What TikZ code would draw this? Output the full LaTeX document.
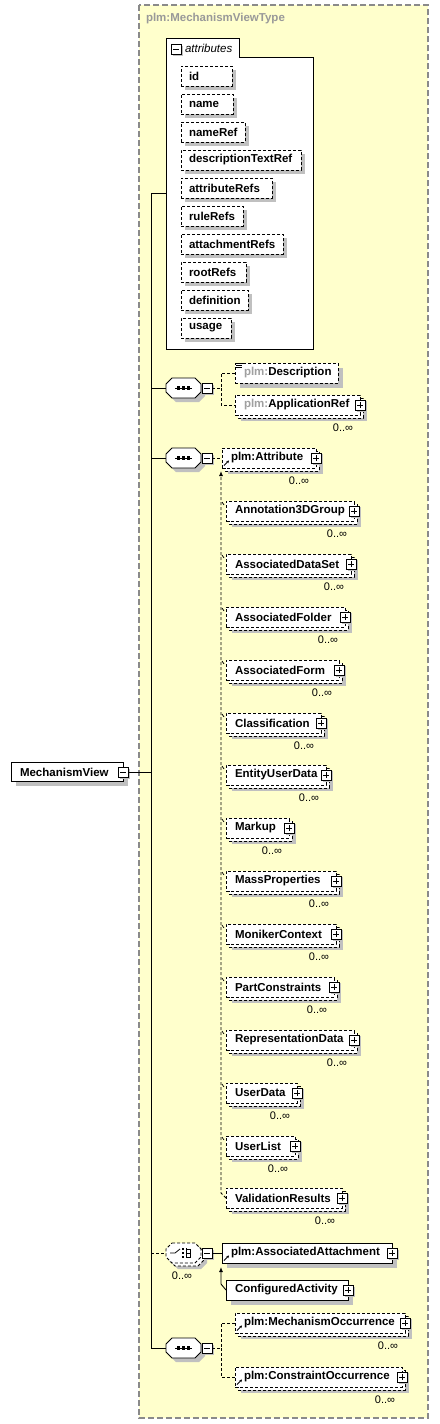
\documentclass[tikz,border=0pt]{standalone}
\usepackage{fontspec}
\setmainfont{Liberation Sans}
\usetikzlibrary{arrows.meta}
\definecolor{bgy}{HTML}{FFFFCC}
\definecolor{shadowg}{HTML}{C0C0C0}
\definecolor{bord}{HTML}{8A8A8A}
\definecolor{titleg}{HTML}{999999}
\definecolor{pfx}{HTML}{A0A0A0}
\tikzset{
  every node/.style={font=\bfseries\fontsize{11.5}{13}\selectfont, inner sep=0pt, outer sep=0pt},
  boxline/.style={draw=black, fill=white, line width=0.9pt},
  opt/.style={dash pattern=on 3pt off 2pt},
  pmbox/.style={draw=black, fill=white, line width=0.9pt, minimum size=10pt, inner sep=0pt},
  conn/.style={line width=0.9pt},
  dconn/.style={conn, dash pattern=on 3pt off 2pt},
  card/.style={font=\fontsize{11}{13}\selectfont},
}
% plus / minus box
\newcommand\PM[4]{%
  \fill[shadowg] (#2-5+2,#3-5+2) rectangle (#2+5+2,#3+5+2);
  \node[pmbox] (#1) at (#2,#3) {};
  \draw[line width=0.9pt] (#1.center) +(-3pt,0) -- +(3pt,0);
  \ifnum#4=1 \draw[line width=0.9pt] (#1.center) +(0,-3pt) -- +(0,3pt);\fi
}
% element box: name, x1, x2, yc, border style, stacked, text, plus
\newcommand\El[8]{%
  \ifnum#6=1
    \fill[shadowg] (#2+6,#4-4) rectangle (#3+7,#4+16);
    \draw[boxline,#5] (#2+3,#4-7) rectangle (#3+3,#4+13);
  \else
    \fill[shadowg] (#2+5,#4-5) rectangle (#3+5,#4+15);
  \fi
  \node[boxline,#5,anchor=north west,minimum width={(#3-#2)*1pt},minimum height=20pt] (#1) at (#2,#4-10) {};
  \node[anchor=west] (#1-t) at (#2+9,#4) {#7};
  \ifnum#8=1 \PM{#1-p}{#3}{#4}{1}\fi
  \ifnum#6=1 \node[card] (#1-c) at (#3-17,#4+23) {0..∞};\fi
}
% attribute item: name, x2, yc, text
\newcommand\At[4]{%
  \fill[shadowg] (185,#3-6) rectangle (#2+4,#3+14);
  \node[boxline,opt,anchor=north west,minimum width={(#2-181)*1pt},minimum height=20pt] (#1) at (181,#3-10) {};
  \node[anchor=west] (#1-t) at (189,#3) {#4};
}
% octagon path: dx, dy, yc
\newcommand\Oct[3]{(172+#1,#3-10+#2) -- (195+#1,#3-10+#2) -- (201+#1,#3-4+#2) -- (201+#1,#3+4+#2) -- (195+#1,#3+10+#2) -- (172+#1,#3+10+#2) -- (166+#1,#3+4+#2) -- (166+#1,#3-4+#2) -- cycle}
% compositor: name, yc, border style, stacked
\newcommand\Comp[4]{%
  \ifnum#4=1
    \fill[shadowg] \Oct{6}{6}{#2};
    \draw[boxline,#3] \Oct{3}{3}{#2};
  \else
    \fill[shadowg] \Oct{4}{4}{#2};
  \fi
  \draw[boxline,#3] \Oct{0}{0}{#2};
  \node[minimum width=35pt,minimum height=20pt] (#1) at (183.5,#2) {};
  \PM{#1-m}{207}{#2}{0}
}
\newcommand\SeqSym[1]{%
  \draw[line width=0.9pt] (175,#1) -- (192,#1);
  \foreach \dx in {177,182,187}{\fill (\dx,#1-1.6) rectangle (\dx+3.2,#1+1.6);}
}
\newcommand\ChSym[1]{%
  \draw[line width=0.8pt] (170,#1) -- (175,#1) -- (180,#1-4);
  \foreach \dy in {-4,0,4}{\fill (182,#1+\dy-1) rectangle (184.2,#1+\dy+1);}
  \draw[line width=0.8pt] (186.5,#1-5) -- (186.5,#1+5);
  \foreach \dy in {-4,0,4}{\draw[line width=0.8pt] (186.5,#1+\dy) -- (190.5,#1+\dy);}
  \draw[line width=0.8pt] (190.5,#1-4) -- (190.5,#1+4);
}
\newcommand\RefIc[1]{\draw[line width=0.8pt,-{Stealth[length=2.6pt,width=2.8pt]}] ([shift={(2pt,2.5pt)}]#1.south west) -- ([shift={(7pt,7.5pt)}]#1.south west);}

\begin{document}
\begin{tikzpicture}[x=1pt,y=-1pt]
\useasboundingbox (0,0) rectangle (439,1424);
\fill[white] (0,0) rectangle (439,1424);
% outer type frame
\draw[fill=bgy, draw=bord, line width=1.4pt, dash pattern=on 6pt off 3pt] (139,5) rectangle (428,1418);
\node[anchor=west, text=titleg] (title) at (146,19) {plm:MechanismViewType};

% attributes panel
\draw[boxline] (166,349) -- (166,38) -- (239,38) -- (239,57) -- (313,57) -- (313,349) -- cycle;
\node[minimum width=147pt, minimum height=311pt, anchor=north west] (attrs) at (166,38) {};
\PM{attrs-m}{176}{49}{0}
\node[anchor=west, font=\itshape\fontsize{11.5}{13}\selectfont] (attrs-t) at (185,48) {attributes};
\At{a1}{232}{76}{id}
\At{a2}{233}{104}{name}
\At{a3}{245}{132}{nameRef}
\At{a4}{301}{160}{descriptionTextRef}
\At{a5}{272}{188}{attributeRefs}
\At{a6}{243}{216}{ruleRefs}
\At{a7}{283}{244}{attachmentRefs}
\At{a8}{246}{272}{rootRefs}
\At{a9}{248}{300}{definition}
\At{a10}{231}{328}{usage}

% root element
\fill[shadowg] (16,767) rectangle (128,786);
\node[boxline, anchor=north west, minimum width=112pt, minimum height=19pt] (mv) at (11,762) {};
\node[anchor=west] (mv-t) at (20,772) {MechanismView};
\PM{mv-m}{123}{772}{0}

% sequence 1
\Comp{s1}{388}{}{0}
\SeqSym{388}
\El{desc}{235}{338}{373}{opt}{0}{{\color{pfx}plm:}Description}{0}
\foreach \i/\l in {0/7,2/6,4/6}{\draw[line width=0.7pt] (236,363.5+\i) -- (236+\l,363.5+\i);}
\El{appref}{235}{360}{405}{opt}{1}{{\color{pfx}plm:}ApplicationRef}{1}

% sequence 2
\Comp{s2}{458}{}{0}
\SeqSym{458}
\El{attr}{222}{316}{458}{opt}{1}{plm:Attribute}{1}
\RefIc{attr}
\El{m1}{226}{354}{511}{opt}{1}{Annotation3DGroup}{1}
\El{m2}{226}{351}{564}{opt}{1}{AssociatedDataSet}{1}
\El{m3}{226}{345}{617}{opt}{1}{AssociatedFolder}{1}
\El{m4}{226}{339}{670}{opt}{1}{AssociatedForm}{1}
\El{m5}{226}{321}{723}{opt}{1}{Classification}{1}
\El{m6}{226}{326}{775}{opt}{1}{EntityUserData}{1}
\El{m7}{226}{289}{828}{opt}{1}{Markup}{1}
\El{m8}{226}{336}{881}{opt}{1}{MassProperties}{1}
\El{m9}{226}{336}{934}{opt}{1}{MonikerContext}{1}
\El{m10}{226}{334}{987}{opt}{1}{PartConstraints}{1}
\El{m11}{226}{354}{1040}{opt}{1}{RepresentationData}{1}
\El{m12}{226}{297}{1093}{opt}{1}{UserData}{1}
\El{m13}{226}{295}{1146}{opt}{1}{UserList}{1}
\El{m14}{226}{342}{1198}{opt}{1}{ValidationResults}{1}

% choice
\Comp{ch}{1253}{opt}{1}
\ChSym{1253}
\node[card] (ch-c) at (182,1276) {0..∞};
\El{aa}{222}{392}{1253}{}{0}{plm:AssociatedAttachment}{1}
\RefIc{aa}
\El{ca}{226}{348}{1290}{}{0}{ConfiguredActivity}{1}

% sequence 3
\Comp{s3}{1348}{}{0}
\SeqSym{1348}
\El{mo}{235}{405}{1323}{opt}{1}{plm:MechanismOccurrence}{1}
\RefIc{mo}
\El{co}{235}{402}{1377}{opt}{1}{plm:ConstraintOccurrence}{1}
\RefIc{co}

% connectors
\coordinate (tr) at (151,772);
\draw[conn] (mv-m.east) -- (tr);
\draw[conn] (attrs.west) -- (attrs.west -| tr) -- (s3.west -| tr) -- (s3.west);
\draw[conn] (s1.west -| tr) -- (s1.west);
\draw[conn] (s2.west -| tr) -- (s2.west);
\draw[dconn] (ch.west -| tr) -- (ch.west);

\coordinate (j1) at (221,388);
\draw[dconn] (s1-m.east) -- (j1) |- (desc.west);
\draw[dconn] (j1) |- (appref.west);

\draw[dconn] (s2-m.east) -- (attr.west);
\draw[dconn,-{Latex[length=5pt,width=4pt]}] (m14.west) -- ++(-5pt,5pt) -- ([shift={(-1pt,-3pt)}]attr.south west);
\foreach \i in {1,...,13}{\draw[line width=0.7pt] ([shift={(-4pt,-1pt)}]m\i.north west) -- ([shift={(-2pt,-4pt)}]m\i.north west);}

\draw[conn] (ch-m.east) -- (aa.west);
\draw[conn,-{Latex[length=5pt,width=4pt]}] (ca.west) -- ++(-5pt,6pt) -- ([shift={(-1pt,-4pt)}]aa.south west);

\coordinate (j3) at (221,1348);
\draw[dconn] (s3-m.east) -- (j3) |- (mo.west);
\draw[dconn] (j3) |- (co.west);
\end{tikzpicture}
\end{document}
